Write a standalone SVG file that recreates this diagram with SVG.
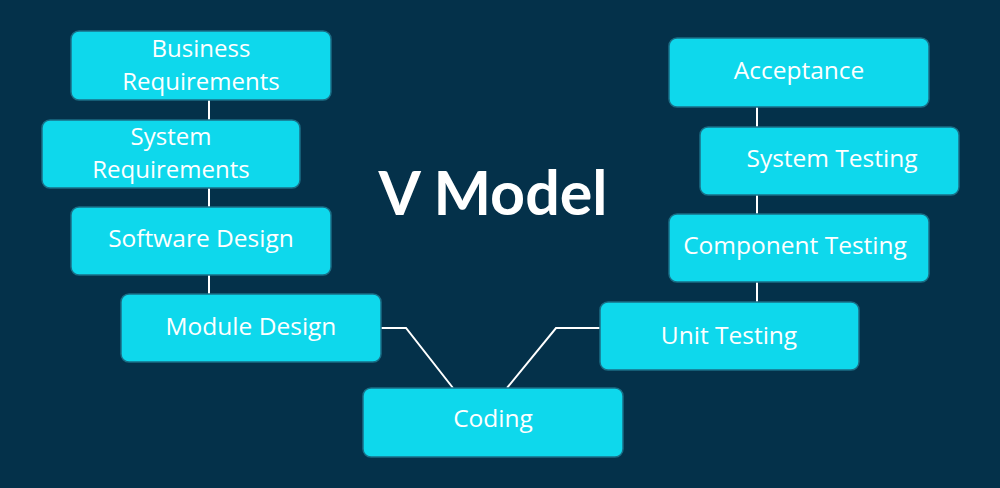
<svg xmlns="http://www.w3.org/2000/svg" width="1000" height="488" viewBox="0 0 1000 488">
<style>
.box{fill:#0ED8EC;stroke:#1A6E86;stroke-width:1.5}
.lbl{font-family:"Open Sans",Lato,sans-serif;font-size:24.5px;fill:#FFFFFF;text-anchor:middle}
.lbl2{font-family:"Open Sans",Lato,sans-serif;font-size:24px;fill:#FFFFFF;text-anchor:middle}
.con{stroke:#FFFFFF;stroke-width:2;fill:none}
.title{font-family:Lato,Inter,sans-serif;font-weight:bold;font-size:61px;fill:#FFFFFF;text-anchor:middle}
</style>
<rect width="1000" height="488" fill="#04314A"/>
<g id="connectors">
<line class="con" x1="209" y1="100" x2="209" y2="120"/>
<line class="con" x1="209" y1="188" x2="209" y2="207"/>
<line class="con" x1="209" y1="275" x2="209" y2="294"/>
<polyline class="con" points="381,328 406,328 453,388"/>
<polyline class="con" points="600,328 556,328 507,388"/>
<line class="con" x1="757" y1="107" x2="757" y2="127"/>
<line class="con" x1="757" y1="195" x2="757" y2="214"/>
<line class="con" x1="757" y1="282" x2="757" y2="302"/>
</g>
<text class="title" x="493" y="215">V Model</text>
<g id="business"><rect class="box" x="71" y="31" width="260" height="69" rx="8"/><text class="lbl2" x="201" y="57">Business</text><text class="lbl2" x="201" y="90">Requirements</text></g>
<g id="system-req"><rect class="box" x="42" y="120" width="258" height="68" rx="8"/><text class="lbl2" x="171" y="145">System</text><text class="lbl2" x="171" y="178">Requirements</text></g>
<g id="software"><rect class="box" x="71" y="207" width="260" height="68" rx="8"/><text class="lbl" x="201" y="247">Software Design</text></g>
<g id="module"><rect class="box" x="121" y="294" width="260" height="68" rx="8"/><text class="lbl" x="251" y="335">Module Design</text></g>
<g id="coding"><rect class="box" x="363" y="388" width="260" height="69" rx="8"/><text class="lbl" x="493" y="427">Coding</text></g>
<g id="unit"><rect class="box" x="600" y="302" width="259" height="68" rx="8"/><text class="lbl" x="729" y="344">Unit Testing</text></g>
<g id="component"><rect class="box" x="669" y="214" width="260" height="68" rx="8"/><text class="lbl" x="795" y="254">Component Testing</text></g>
<g id="system-test"><rect class="box" x="700" y="127" width="259" height="68" rx="8"/><text class="lbl" x="832" y="167">System Testing</text></g>
<g id="acceptance"><rect class="box" x="669" y="38" width="260" height="69" rx="8"/><text class="lbl" x="799" y="79">Acceptance</text></g>
</svg>
